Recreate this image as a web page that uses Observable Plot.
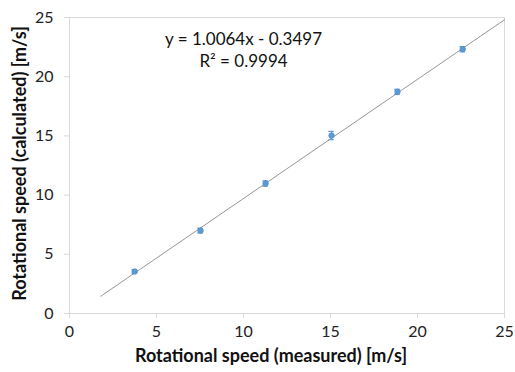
<!DOCTYPE html>
<html>
<head>
<meta charset="utf-8">
<script src="https://cdn.jsdelivr.net/npm/d3@7"></script>
<script src="https://cdn.jsdelivr.net/npm/@observablehq/plot@0.6"></script>
<style>
  html, body { margin: 0; padding: 0; background: #fff; }
  #chart { width: 515px; height: 372px; }
</style>
</head>
<body>
<div id="chart"></div>
<script>
// Data
const measured   = [3.75, 7.53, 11.27, 15.06, 18.85, 22.6];
const calculated = [3.55, 7.0, 10.98, 15.03, 18.72, 22.32];
const errors     = [0.15, 0.2, 0.22, 0.35, 0.22, 0.22];
const xTicks = [0, 5, 10, 15, 20, 25];
const yTicks = [0, 5, 10, 15, 20, 25];
const slope = 1.0064;
const intercept = -0.3497;
const trendX = [1.8, 25];
const equationLines = ["y = 1.0064x - 0.3497", "R² = 0.9994"];
const xTitle = "Rotational speed (measured) [m/s]";
const yTitle = "Rotational speed (calculated) [m/s]";

const pts = measured.map((x, i) => ({x, y: calculated[i], e: errors[i]}));
const trend = trendX.map(x => ({x, y: slope * x + intercept}));
const eq = [
  {x: 10, y: 23.1, t: equationLines[0]},
  {x: 10, y: 21.3, t: equationLines[1]}
];

const font = "Lato, 'Open Sans', sans-serif";
const blue = "#5b9bd5";

const chart = Plot.plot({
  width: 515,
  height: 372,
  marginLeft: 69,
  marginRight: 11,
  marginTop: 17,
  marginBottom: 59,
  style: {fontFamily: font, fontSize: "16px", color: "#222", background: "#fff"},
  x: {domain: [0, 25]},
  y: {domain: [0, 25]},
  marks: [
    Plot.frame({stroke: "#d9d9d9"}),
    Plot.axisX({ticks: xTicks, tickSize: 5, tickPadding: 7, stroke: "#d9d9d9", label: null, fontSize: 16, fill: "#222"}),
    Plot.axisY({ticks: yTicks, tickSize: 5, tickPadding: 11, stroke: "#d9d9d9", label: null, fontSize: 16, fill: "#222"}),
    Plot.line(trend, {x: "x", y: "y", stroke: "#8a8a8a", strokeWidth: 0.9}),
    Plot.ruleX(pts, {x: "x", y1: d => d.y - d.e, y2: d => d.y + d.e, stroke: blue, strokeWidth: 1.2}),
    Plot.ruleY(pts, {y: d => d.y + d.e, x1: d => d.x - 0.16, x2: d => d.x + 0.16, stroke: blue, strokeWidth: 1.2}),
    Plot.ruleY(pts, {y: d => d.y - d.e, x1: d => d.x - 0.16, x2: d => d.x + 0.16, stroke: blue, strokeWidth: 1.2}),
    Plot.dot(pts, {x: "x", y: "y", r: 2.8, fill: blue, stroke: "#4a86c5", strokeWidth: 0.6}),
    Plot.text(eq, {x: "x", y: "y", text: "t", fontSize: 17, fill: "#111", textAnchor: "middle"}),
    Plot.text([xTitle], {frameAnchor: "bottom", dy: 48, dx: -16, fontSize: 18, fontWeight: "bold", fill: "#111", textAnchor: "middle"}),
    Plot.text([yTitle], {frameAnchor: "left", rotate: -90, dx: -49, dy: -2, fontSize: 18, fontWeight: "bold", fill: "#111", textAnchor: "middle"})
  ]
});
document.getElementById("chart").appendChild(chart);
</script>
</body>
</html>
